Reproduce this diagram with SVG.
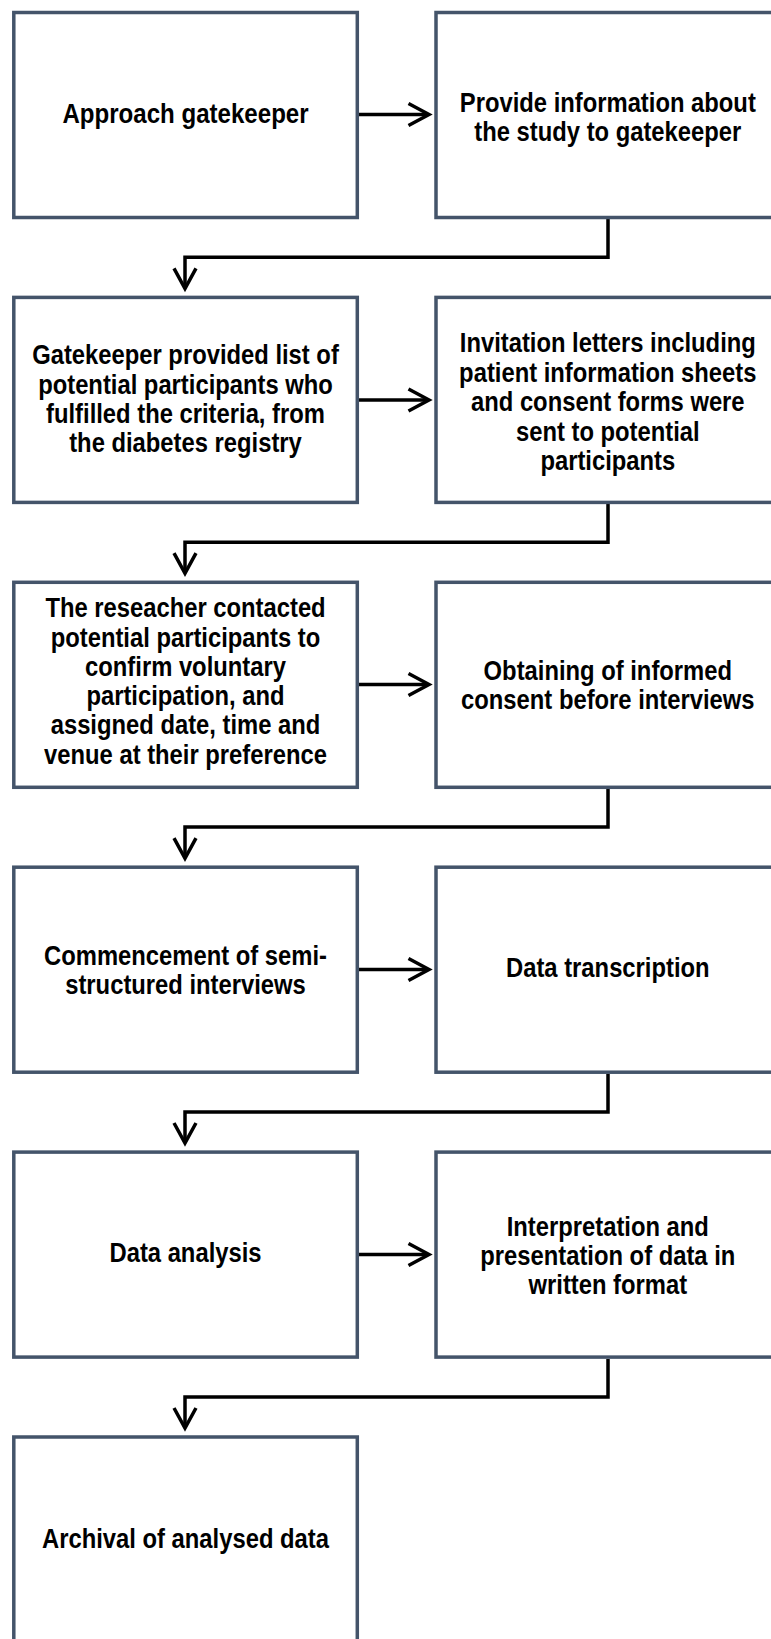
<svg xmlns="http://www.w3.org/2000/svg" width="771" height="1639" viewBox="0 0 771 1639">
  <style>
    .box { fill: #ffffff; stroke: #44546a; stroke-width: 3.5; }
    .lbl { font-family: "Liberation Sans", Arial, sans-serif; font-weight: bold; font-size: 28px; fill: #000000; text-anchor: middle; }
    .wire { fill: none; stroke: #000000; stroke-width: 3.5; }
    .head { fill: none; stroke: #000000; stroke-width: 3.5; stroke-linejoin: miter; }
  </style>
  <rect width="771" height="1639" fill="#ffffff"/>

  <!-- connectors -->
  <g id="connectors">
    <!-- row arrows (left box to right box) -->
    <path class="wire" d="M359 114.5 H428"/>
    <path class="head" d="M408.5 103.5 L429 114.5 L408.5 125.5"/>
    <path class="wire" d="M359 400 H428"/>
    <path class="head" d="M408.5 389 L429 400 L408.5 411"/>
    <path class="wire" d="M359 684.5 H428"/>
    <path class="head" d="M408.5 673.5 L429 684.5 L408.5 695.5"/>
    <path class="wire" d="M359 969.5 H428"/>
    <path class="head" d="M408.5 958.5 L429 969.5 L408.5 980.5"/>
    <path class="wire" d="M359 1254.5 H428"/>
    <path class="head" d="M408.5 1243.5 L429 1254.5 L408.5 1265.5"/>

    <!-- elbow connectors (right box down to next row) -->
    <path class="wire" d="M608 219 V257.3 H185 V287"/>
    <path class="head" d="M174 268.3 L185 288.5 L196 268.3"/>
    <path class="wire" d="M608 504 V542.2 H185 V572"/>
    <path class="head" d="M174 553.2 L185 573.4 L196 553.2"/>
    <path class="wire" d="M608 789 V827.1 H185 V857"/>
    <path class="head" d="M174 838.1 L185 858.3 L196 838.1"/>
    <path class="wire" d="M608 1074 V1112 H185 V1142"/>
    <path class="head" d="M174 1123 L185 1143.2 L196 1123"/>
    <path class="wire" d="M608 1359 V1397 H185 V1427"/>
    <path class="head" d="M174 1408 L185 1428.2 L196 1408"/>
  </g>

  <!-- row 1 -->
  <g id="approach-gatekeeper">
    <rect class="box" x="13.8" y="12.5" width="343.5" height="205"/>
    <text class="lbl" transform="translate(185.5 0) scale(0.86 1)"><tspan x="0" y="123.5">Approach gatekeeper</tspan></text>
  </g>
  <g id="provide-information">
    <rect class="box" x="436" y="12.5" width="343.5" height="205"/>
    <text class="lbl" transform="translate(607.8 0) scale(0.85 1)"><tspan x="0" y="111.7">Provide information about</tspan><tspan x="0" y="141">the study to gatekeeper</tspan></text>
  </g>

  <!-- row 2 -->
  <g id="gatekeeper-list">
    <rect class="box" x="13.8" y="297.4" width="343.5" height="205"/>
    <text class="lbl" transform="translate(185.5 0) scale(0.85 1)"><tspan x="0" y="364.5">Gatekeeper provided list of</tspan><tspan x="0" y="393.8">potential participants who</tspan><tspan x="0" y="423.1">fulfilled the criteria, from</tspan><tspan x="0" y="452.4">the diabetes registry</tspan></text>
  </g>
  <g id="invitation-letters">
    <rect class="box" x="436" y="297.4" width="343.5" height="205"/>
    <text class="lbl" transform="translate(607.8 0) scale(0.85 1)"><tspan x="0" y="352.5">Invitation letters including</tspan><tspan x="0" y="382">patient information sheets</tspan><tspan x="0" y="411.5">and consent forms were</tspan><tspan x="0" y="441">sent to potential</tspan><tspan x="0" y="470.5">participants</tspan></text>
  </g>

  <!-- row 3 -->
  <g id="researcher-contact">
    <rect class="box" x="13.8" y="582.3" width="343.5" height="205"/>
    <text class="lbl" transform="translate(185.5 0) scale(0.85 1)"><tspan x="0" y="617.3">The reseacher contacted</tspan><tspan x="0" y="646.6">potential participants to</tspan><tspan x="0" y="675.9">confirm voluntary</tspan><tspan x="0" y="705.2">participation, and</tspan><tspan x="0" y="734.5">assigned date, time and</tspan><tspan x="0" y="763.8">venue at their preference</tspan></text>
  </g>
  <g id="informed-consent">
    <rect class="box" x="436" y="582.3" width="343.5" height="205"/>
    <text class="lbl" transform="translate(607.8 0) scale(0.85 1)"><tspan x="0" y="680">Obtaining of informed</tspan><tspan x="0" y="709.3">consent before interviews</tspan></text>
  </g>

  <!-- row 4 -->
  <g id="interviews">
    <rect class="box" x="13.8" y="867.2" width="343.5" height="205"/>
    <text class="lbl" transform="translate(185.5 0) scale(0.85 1)"><tspan x="0" y="965">Commencement of semi-</tspan><tspan x="0" y="994.3">structured interviews</tspan></text>
  </g>
  <g id="transcription">
    <rect class="box" x="436" y="867.2" width="343.5" height="205"/>
    <text class="lbl" transform="translate(607.8 0) scale(0.85 1)"><tspan x="0" y="977">Data transcription</tspan></text>
  </g>

  <!-- row 5 -->
  <g id="analysis">
    <rect class="box" x="13.8" y="1152.1" width="343.5" height="205"/>
    <text class="lbl" transform="translate(185.5 0) scale(0.85 1)"><tspan x="0" y="1262">Data analysis</tspan></text>
  </g>
  <g id="interpretation">
    <rect class="box" x="436" y="1152.1" width="343.5" height="205"/>
    <text class="lbl" transform="translate(607.8 0) scale(0.85 1)"><tspan x="0" y="1235.7">Interpretation and</tspan><tspan x="0" y="1265">presentation of data in</tspan><tspan x="0" y="1294.3">written format</tspan></text>
  </g>

  <!-- row 6 -->
  <g id="archival">
    <rect class="box" x="13.8" y="1437" width="343.5" height="205"/>
    <text class="lbl" transform="translate(185.5 0) scale(0.85 1)"><tspan x="0" y="1548.3">Archival of analysed data</tspan></text>
  </g>
</svg>
